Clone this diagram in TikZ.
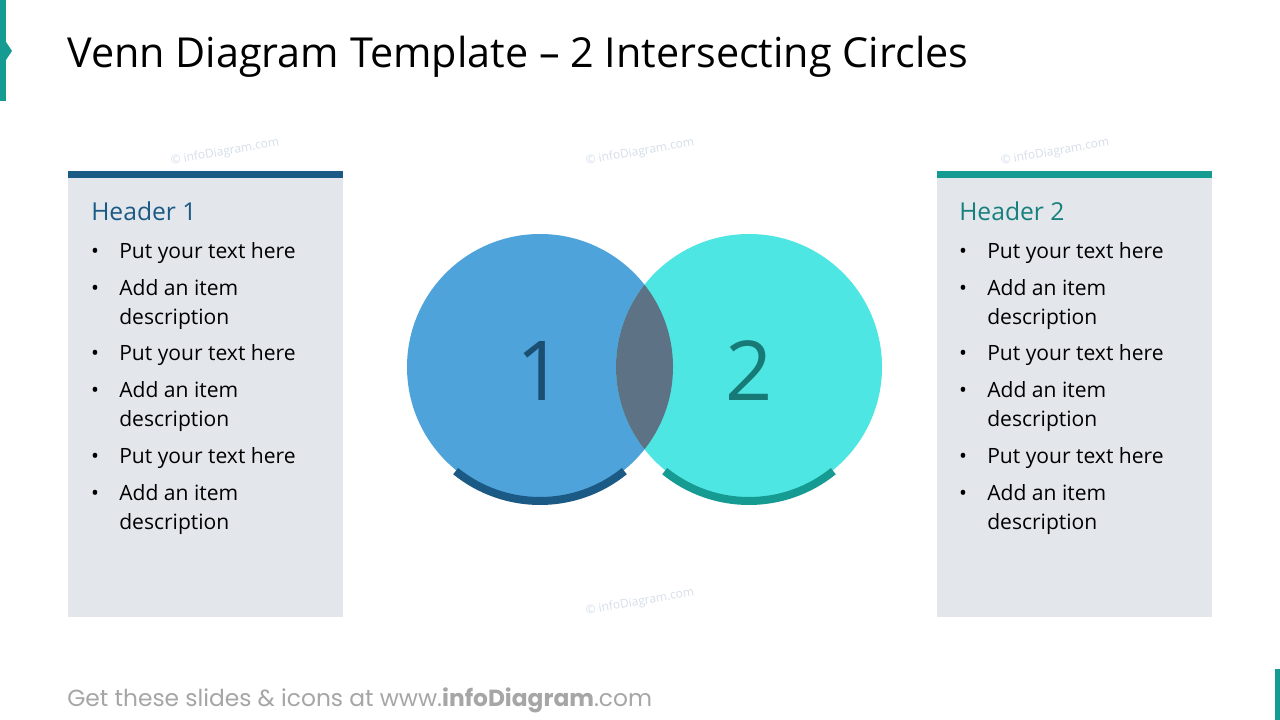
\documentclass[tikz,border=0pt]{standalone}
\usepackage{fontspec}
\setmainfont{Open Sans}
\newfontfamily\footfont{Poppins}
\usetikzlibrary{positioning,calc}
\definecolor{navy}{HTML}{1B5A85}
\definecolor{tealbar}{HTML}{169B93}
\definecolor{tealtext}{HTML}{17807C}
\definecolor{panelgray}{HTML}{E3E7EC}
\definecolor{blueone}{HTML}{4EA3DB}
\definecolor{cyantwo}{HTML}{4EE6E3}
\definecolor{overlap}{HTML}{5E7285}
\definecolor{numone}{HTML}{1B4F72}
\definecolor{numtwo}{HTML}{177A77}
\definecolor{footgray}{HTML}{A6A6A6}
\definecolor{wmark}{HTML}{D5DEEA}
\tikzstyle{item} = [anchor=base west, inner sep=0pt, align=left, font=\fontsize{15.8}{21.75}\selectfont]
\tikzstyle{dot} = [anchor=base, inner sep=0pt, font=\fontsize{15.8}{21.75}\selectfont]
\tikzstyle{header} = [anchor=base west, inner sep=0pt, font=\fontsize{18.5}{20}\selectfont]
\tikzstyle{number} = [anchor=base, inner sep=0pt, font=\fontsize{62}{62}\selectfont]
\tikzstyle{wm} = [text=wmark, rotate=10, inner sep=0pt, font=\fontsize{9}{10}\selectfont]
\tikzstyle{rim} = [line width=6pt]

\begin{document}
\begin{tikzpicture}[x=0.75pt, y=-0.75pt]
  \useasboundingbox (0,0) rectangle (1280,720);
  \fill [white] (0,0) rectangle (1280,720);

  % corner marks
  \fill [tealbar] (0,0) rectangle (6,101);
  \fill [tealbar] (6,42) -- (12,51) -- (6,60) -- cycle;
  \fill [tealbar] (1275,669) rectangle (1280,720);

  % title
  \node [anchor=base west, inner sep=0pt, font=\fontsize{31}{34}\selectfont] (title) at (67,68) {Venn Diagram Template -- 2 Intersecting Circles};

  % watermarks
  \node [wm] (wm1) at (225,152) {\textcopyright{} infoDiagram.com};
  \node [wm] (wm2) at (640,152) {\textcopyright{} infoDiagram.com};
  \node [wm] (wm3) at (1055,152) {\textcopyright{} infoDiagram.com};
  \node [wm] (wm4) at (640,602) {\textcopyright{} infoDiagram.com};

  % panels
  \fill [panelgray] (68,178) rectangle (343,617);
  \fill [navy] (68,171) rectangle (343,178);
  \fill [panelgray] (937,178) rectangle (1212,617);
  \fill [tealbar] (937,171) rectangle (1212,178);

  % left panel text (two-line items sit on their last line)
  \node [header, text=navy] (head1) at (91,220) {Header 1};
  \node [dot] (b11) at (95,258) {\textbullet};
  \node [item] (t11) at (119,258) {Put your text here};
  \node [dot] (b12) at (95,295) {\textbullet};
  \node [item] (t12) at (119,324) {Add an item\\description};
  \node [dot] (b13) at (95,360) {\textbullet};
  \node [item] (t13) at (119,360) {Put your text here};
  \node [dot] (b14) at (95,397) {\textbullet};
  \node [item] (t14) at (119,426) {Add an item\\description};
  \node [dot] (b15) at (95,463) {\textbullet};
  \node [item] (t15) at (119,463) {Put your text here};
  \node [dot] (b16) at (95,500) {\textbullet};
  \node [item] (t16) at (119,529) {Add an item\\description};

  % right panel text
  \node [header, text=tealtext] (head2) at (959,220) {Header 2};
  \node [dot] (b21) at (963,258) {\textbullet};
  \node [item] (t21) at (987,258) {Put your text here};
  \node [dot] (b22) at (963,295) {\textbullet};
  \node [item] (t22) at (987,324) {Add an item\\description};
  \node [dot] (b23) at (963,360) {\textbullet};
  \node [item] (t23) at (987,360) {Put your text here};
  \node [dot] (b24) at (963,397) {\textbullet};
  \node [item] (t24) at (987,426) {Add an item\\description};
  \node [dot] (b25) at (963,463) {\textbullet};
  \node [item] (t25) at (987,463) {Put your text here};
  \node [dot] (b26) at (963,500) {\textbullet};
  \node [item] (t26) at (987,529) {Add an item\\description};

  % circles
  \coordinate (c1) at (540,367);
  \coordinate (c2) at (749,367);
  \fill [blueone] (c1) circle [radius=133*0.75pt];
  \fill [cyantwo] (c2) circle [radius=133*0.75pt];
  \begin{scope}
    \clip (c1) circle [radius=133*0.75pt];
    \fill [overlap] (c2) circle [radius=133*0.75pt];
  \end{scope}
  \draw [rim, navy] ($(c1)+(231:134*0.75pt)$) arc [start angle=231, end angle=309, radius=134*0.75pt];
  \draw [rim, tealbar] ($(c2)+(231:134*0.75pt)$) arc [start angle=231, end angle=309, radius=134*0.75pt];
  \node [number, text=numone] (n1) at (540,400) {1};
  \node [number, text=numtwo] (n2) at (749,400) {2};

  % footer
  \node [anchor=base west, inner sep=0pt, text=footgray, font=\footfont\fontsize{17.5}{19}\selectfont] (foot) at (67,706) {Get these slides \& icons at www.\textbf{infoDiagram}.com};
\end{tikzpicture}
\end{document}
